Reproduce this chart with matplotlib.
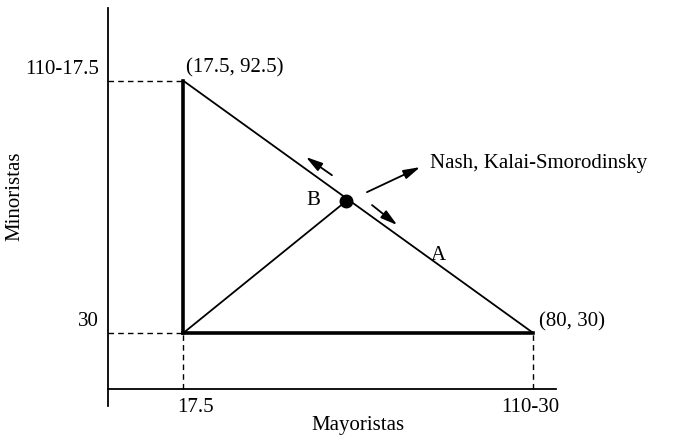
import matplotlib.pyplot as plt

# corner points of the bargaining set (Mayoristas, Minoristas)
disagree = (17.5, 30.0)
top_corner = (17.5, 92.5)
right_corner = (80.0, 30.0)
solution = (46.6, 62.7)

x_ticks = [17.5, 80.0]
x_tick_labels = ["17.5", "110-30"]
y_ticks = [30.0, 92.5]
y_tick_labels = ["30", "110-17.5"]

# axes frame drawn by hand (data units)
axis_x0 = 4.05
axis_y0 = 16.1

FONT = "Liberation Serif"
FS = 15

fig = plt.figure(figsize=(6.73, 4.40), dpi=100)
ax = fig.add_axes([0, 0, 1, 1])
ax.set_xlim(-15.23, 104.95)
ax.set_ylim(3.5, 112.5)
ax.axis("off")

# axes
ax.plot([axis_x0, axis_x0], [11.9, 110.5], color="black", lw=1.3)
ax.plot([axis_x0, 84.0], [axis_y0, axis_y0], color="black", lw=1.3)

# dashed guides
dash = dict(color="black", lw=1.0, linestyle=(0, (4, 3)))
ax.plot([axis_x0, top_corner[0]], [top_corner[1], top_corner[1]], **dash)
ax.plot([axis_x0, disagree[0]], [disagree[1], disagree[1]], **dash)
ax.plot([disagree[0], disagree[0]], [axis_y0, disagree[1]], **dash)
ax.plot([right_corner[0], right_corner[0]], [axis_y0, right_corner[1]], **dash)

# triangle
ax.plot([disagree[0], top_corner[0]], [disagree[1], top_corner[1]], color="black", lw=2.6)
ax.plot([disagree[0], right_corner[0]], [disagree[1], right_corner[1]], color="black", lw=2.6)
ax.plot([top_corner[0], right_corner[0]], [top_corner[1], right_corner[1]], color="black", lw=1.3)
ax.plot([disagree[0], solution[0]], [disagree[1], solution[1]], color="black", lw=1.3)
ax.plot(*solution, "o", color="black", markersize=9)

# arrows
arrow = dict(arrowstyle="-|>,head_length=1.0,head_width=0.28", color="black", lw=1.3,
             shrinkA=0, shrinkB=0)
ax.annotate("", xy=(39.4, 73.6), xytext=(44.05, 69.1), arrowprops=arrow)
ax.annotate("", xy=(55.7, 56.75), xytext=(51.2, 61.7), arrowprops=arrow)
ax.annotate("", xy=(59.8, 71.1), xytext=(50.3, 64.9), arrowprops=arrow)

txt = dict(fontfamily=FONT, fontsize=FS, color="black")
ax.text(61.6, 72.0, "Nash, Kalai-Smorodinsky", ha="left", va="center", **txt)
ax.text(40.7, 62.9, "B", ha="center", va="center", **txt)
ax.text(63.0, 49.1, "A", ha="center", va="center", **txt)
ax.text(18.0, 95.6, "(17.5, 92.5)", ha="left", va="center", **txt)
ax.text(81.0, 32.8, "(80, 30)", ha="left", va="center", **txt)

for xv, lab in zip(x_ticks, x_tick_labels):
    ax.text(xv + (2.2 if lab == "17.5" else -0.6), 11.6, lab, ha="center", va="center", **txt)
for yv, lab in zip(y_ticks, y_tick_labels):
    ax.text(axis_x0 - 1.6, yv + 2.8, lab, ha="right", va="center", **txt)

ax.text(48.7, 7.2, "Mayoristas", ha="center", va="center", **txt)
ax.text(-12.5, 63.8, "Minoristas", ha="center", va="center", rotation=90, **txt)

fig.savefig("out.png", dpi=100)
